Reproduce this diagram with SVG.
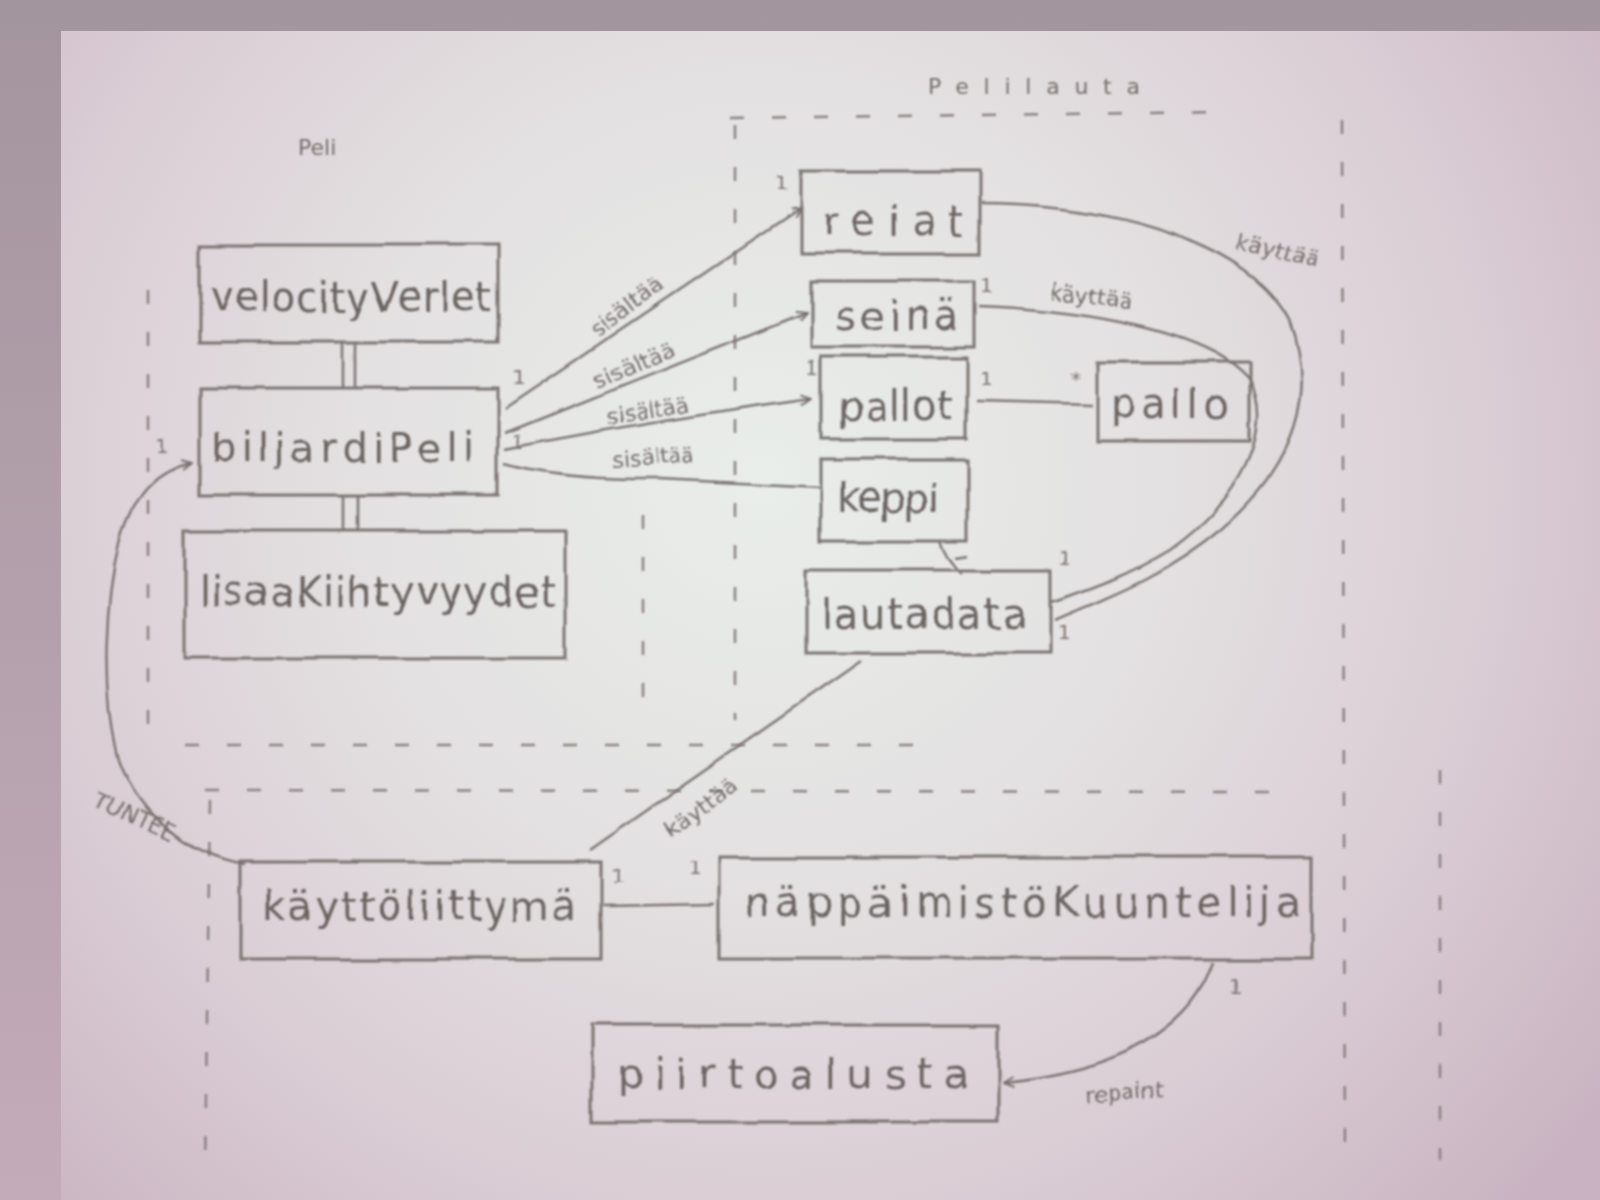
<svg xmlns="http://www.w3.org/2000/svg" width="1600" height="1200" viewBox="0 0 1600 1200">
<defs>
<radialGradient id="paper" cx="760" cy="480" r="1050" gradientUnits="userSpaceOnUse">
<stop offset="0" stop-color="#e9eeea"/>
<stop offset="0.4" stop-color="#e3e0e1"/>
<stop offset="0.7" stop-color="#dacdd4"/>
<stop offset="1" stop-color="#c9b3c2"/>
</radialGradient>
<linearGradient id="outside" x1="0" y1="0" x2="0" y2="1">
<stop offset="0" stop-color="#a3959e"/>
<stop offset="1" stop-color="#c4abba"/>
</linearGradient>
<filter id="rough" x="-5%" y="-5%" width="110%" height="110%">
<feTurbulence type="fractalNoise" baseFrequency="0.018" numOctaves="2" seed="3" result="n"/>
<feDisplacementMap in="SourceGraphic" in2="n" scale="7" xChannelSelector="R" yChannelSelector="G" result="d"/>
<feGaussianBlur in="d" stdDeviation="1.1"/>
</filter>
<filter id="soft"><feGaussianBlur stdDeviation="1.2"/></filter>
<marker id="arr" viewBox="0 0 12 12" refX="11" refY="6" markerWidth="12" markerHeight="12" markerUnits="userSpaceOnUse" orient="auto">
<path d="M1,1 L11,6 L1,11" fill="none" stroke="#77706f" stroke-width="2"/>
</marker>
<style>
.box{fill:none;stroke:#7a7371;stroke-width:3}
.lbl{font-family:"DejaVu Sans",sans-serif;fill:#6a6361;font-size:40px}
.sm{font-family:"DejaVu Sans",sans-serif;fill:#746d6b;font-size:22px}
.mk{font-family:"DejaVu Sans",sans-serif;fill:#7a7371;font-size:20px}
.ln{fill:none;stroke:#7c7573;stroke-width:2.5}
.dash{fill:none;stroke:#8a8282;stroke-width:2.5;stroke-dasharray:14 28}
</style>
</defs>
<rect x="0" y="0" width="1600" height="1200" fill="url(#outside)"/>
<rect x="61" y="31" width="1539" height="1169" fill="url(#paper)"/>

<g id="packages" filter="url(#soft)">
<path class="dash" d="M730,118 L1230,112"/>
<path class="dash" d="M735,125 L735,720"/>
<path class="dash" d="M1342,120 L1345,1160"/>
<path class="dash" d="M148,290 L148,735"/>
<path class="dash" d="M643,515 L643,700"/>
<path class="dash" d="M185,745 L920,745"/>
<path class="dash" d="M205,790 L1270,792"/>
<path class="dash" d="M210,800 L205,1170"/>
<path class="dash" d="M1440,770 L1440,1160"/>
<text class="sm" x="298" y="155" font-size="22">Peli</text>
<text class="sm" x="928" y="94" font-size="32" textLength="212">Pelilauta</text>
</g>

<g filter="url(#rough)">
<g id="connectors">
<path class="ln" d="M505,408 L801,208" marker-end="url(#arr)"/>
<path class="ln" d="M505,433 L806,313" marker-end="url(#arr)"/>
<path class="ln" d="M505,449 Q650,420 812,398" marker-end="url(#arr)"/>
<path class="ln" d="M505,464 Q560,480 660,479 L821,487"/>
<path class="ln" d="M977,401 L1092,404"/>
<path class="ln" d="M982,204 C1120,205 1250,245 1290,320 C1320,400 1290,470 1220,530 C1160,580 1100,600 1055,620"/>
<path class="ln" d="M978,306 C1080,310 1210,330 1250,380 C1275,430 1240,500 1170,550 C1120,580 1080,592 1052,602"/>
<path class="ln" d="M940,541 Q945,560 962,575 M955,558 L968,556"/>
<path class="ln" d="M862,661 L590,850"/>
<path class="ln" d="M604,906 L714,904"/>
<path class="ln" d="M1214,962 C1190,1030 1120,1070 1003,1082" marker-end="url(#arr)"/>
<path class="ln" d="M245,865 C190,855 140,820 118,760 C100,690 105,600 120,540 C135,490 160,470 192,463" marker-end="url(#arr)"/>
<path class="ln" d="M343,342 L343,388 M355,342 L355,388"/>
<path class="ln" d="M343,495 L343,530 M357,495 L357,530"/>
<text class="sm" transform="translate(598,338) rotate(-37)">sisältää</text>
<text class="sm" transform="translate(598,388) rotate(-22)">sisältää</text>
<text class="sm" transform="translate(608,425) rotate(-10)">sisältää</text>
<text class="sm" transform="translate(612,468) rotate(-4)">sisältää</text>
<text class="sm" transform="translate(1050,298) rotate(8)">käyttää</text>
<text class="sm" transform="translate(1235,250) rotate(12)">käyttää</text>
<text class="sm" transform="translate(670,838) rotate(-35)">käyttää</text>
<text class="sm" transform="translate(92,805) rotate(25)">TUNTEE</text>
<text class="sm" x="1085" y="1098" font-size="30" transform="rotate(-4 1150 1090)">repaint</text>
<text class="mk" x="512" y="385">1</text>
<text class="mk" x="512" y="448">1</text>
<text class="mk" x="775" y="190">1</text>
<text class="mk" x="980" y="292">1</text>
<text class="mk" x="806" y="375">1</text>
<text class="mk" x="980" y="385">1</text>
<text class="mk" x="1070" y="385">*</text>
<text class="mk" x="1058" y="565">1</text>
<text class="mk" x="1058" y="640">1</text>
<text class="mk" x="612" y="882">1</text>
<text class="mk" x="688" y="875">1</text>
<text class="mk" x="1228" y="992">1</text>
<text class="mk" x="155" y="453">1</text>
</g>

<g id="velocityVerlet"><rect class="box" x="199" y="245" width="299" height="97"/><text class="lbl" x="209" y="311" textLength="283">velocityVerlet</text></g>
<g id="biljardiPeli"><rect class="box" x="199" y="388" width="299" height="107"/><text class="lbl" x="211" y="462" textLength="263">biljardiPeli</text></g>
<g id="lisaaKiihtyvyydet"><rect class="box" x="184" y="530" width="382" height="128"/><text class="lbl" x="199" y="606" textLength="357">lisaaKiihtyvyydet</text></g>
<g id="reiat"><rect class="box" x="801" y="171" width="179" height="82"/><text class="lbl" x="823" y="235" textLength="141">reiat</text></g>
<g id="seina"><rect class="box" x="811" y="281" width="163" height="66"/><text class="lbl" x="835" y="330" textLength="124">seinä</text></g>
<g id="pallot"><rect class="box" x="821" y="357" width="146" height="82"/><text class="lbl" x="837" y="420" textLength="117">pallot</text></g>
<g id="pallo"><rect class="box" x="1097" y="362" width="153" height="79"/><text class="lbl" x="1110" y="418" textLength="120">pallo</text></g>
<g id="keppi"><rect class="box" x="821" y="459" width="146" height="82"/><text class="lbl" x="837" y="512" textLength="102">keppi</text></g>
<g id="lautadata"><rect class="box" x="806" y="571" width="245" height="82"/><text class="lbl" x="821" y="628" textLength="205">lautadata</text></g>
<g id="kayttoliittyma"><rect class="box" x="240" y="862" width="362" height="97"/><text class="lbl" x="263" y="920" textLength="314">käyttöliittymä</text></g>
<g id="nappaimistoKuuntelija"><rect class="box" x="719" y="857" width="592" height="102"/><text class="lbl" x="745" y="916" textLength="556">näppäimistöKuuntelija</text></g>
<g id="piirtoalusta"><rect class="box" x="592" y="1025" width="406" height="97"/><text class="lbl" x="617" y="1088" textLength="352">piirtoalusta</text></g>
</g>
</svg>
